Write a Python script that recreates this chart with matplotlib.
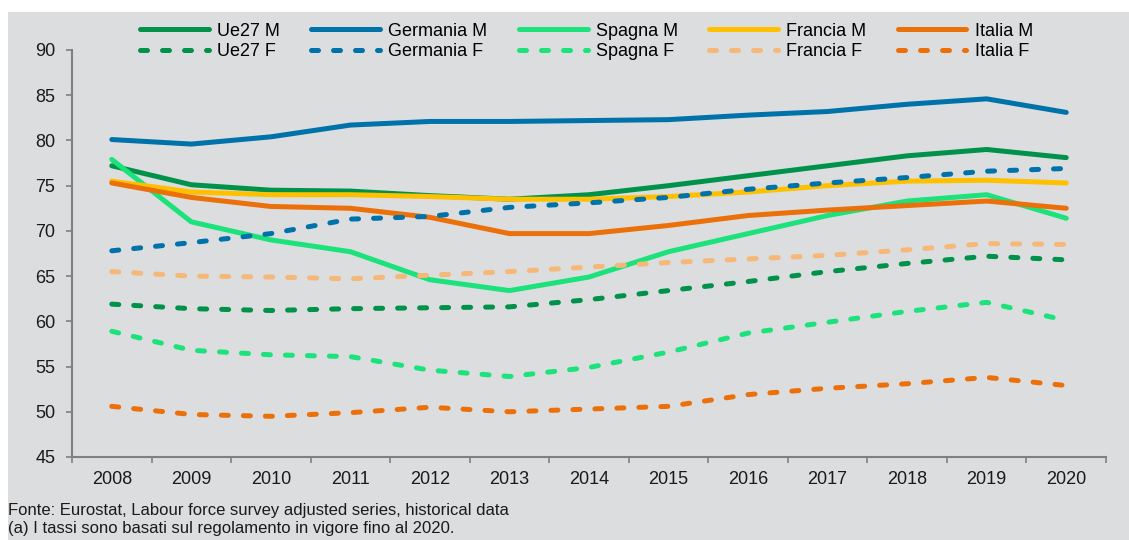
import numpy as np
import matplotlib
matplotlib.use("Agg")
import matplotlib.pyplot as plt
from matplotlib.patches import Rectangle

# ── data ──────────────────────────────────────────────────────────────────
years = list(range(2008, 2021))

ue27_m     = [77.2, 75.1, 74.5, 74.4, 73.9, 73.5, 74.0, 75.0, 76.1, 77.2, 78.3, 79.0, 78.1]
germania_m = [80.1, 79.6, 80.4, 81.7, 82.1, 82.1, 82.2, 82.3, 82.8, 83.2, 84.0, 84.6, 83.1]
spagna_m   = [77.9, 71.0, 69.0, 67.7, 64.6, 63.4, 64.9, 67.7, 69.7, 71.7, 73.3, 74.0, 71.4]
francia_m  = [75.5, 74.3, 74.0, 74.0, 73.8, 73.5, 73.5, 73.8, 74.3, 75.0, 75.5, 75.6, 75.3]
italia_m   = [75.3, 73.7, 72.7, 72.5, 71.5, 69.7, 69.7, 70.6, 71.7, 72.3, 72.8, 73.3, 72.5]

ue27_f     = [61.9, 61.4, 61.2, 61.4, 61.5, 61.6, 62.4, 63.4, 64.4, 65.5, 66.4, 67.2, 66.8]
germania_f = [67.8, 68.7, 69.7, 71.3, 71.6, 72.6, 73.1, 73.7, 74.6, 75.3, 75.9, 76.6, 76.9]
spagna_f   = [58.9, 56.8, 56.3, 56.1, 54.6, 53.9, 54.9, 56.6, 58.7, 59.9, 61.1, 62.1, 60.1]
francia_f  = [65.5, 65.0, 64.9, 64.7, 65.1, 65.5, 66.0, 66.5, 66.9, 67.3, 67.9, 68.6, 68.5]
italia_f   = [50.6, 49.7, 49.5, 49.9, 50.5, 50.0, 50.3, 50.6, 51.9, 52.6, 53.1, 53.8, 52.9]

labels_m = ["Ue27 M", "Germania M", "Spagna M", "Francia M", "Italia M"]
labels_f = ["Ue27 F", "Germania F", "Spagna F", "Francia F", "Italia F"]
colors_m = ["#00924a", "#0072aa", "#1be27a", "#ffc000", "#ec700a"]
colors_f = ["#00924a", "#0072aa", "#1be27a", "#f5b878", "#ec700a"]

series_m = [ue27_m, germania_m, spagna_m, francia_m, italia_m]
series_f = [ue27_f, germania_f, spagna_f, francia_f, italia_f]

BG = "#dcdddf"
plt.rcParams["font.family"] = ["Liberation Sans", "DejaVu Sans"]

fig = plt.figure(figsize=(11.29, 5.40), dpi=100)
fig.patches.append(Rectangle((8 / 1129, 0), 1, 1 - 12 / 540, transform=fig.transFigure,
                             facecolor=BG, edgecolor="none", zorder=-10))
ax = fig.add_axes([72 / 1129, 83 / 540, 1034 / 1129, 407 / 540])
ax.set_facecolor(BG)

lw = 3.6
handles_m, handles_f = [], []
for vals, c, lab in zip(series_m, colors_m, labels_m):
    h, = ax.plot(years, vals, color=c, lw=lw, solid_capstyle="round", label=lab)
    handles_m.append(h)
for vals, c, lab in zip(series_f, colors_f, labels_f):
    h, = ax.plot(years, vals, color=c, lw=lw, dashes=(1.4, 3.0),
                 dash_capstyle="round", label=lab)
    handles_f.append(h)

ax.set_xlim(2007.5, 2020.5)
ax.set_ylim(45, 90)
ax.set_yticks(range(45, 91, 5))
ax.set_xticks(years)
ax.set_xticks([y - 0.5 for y in years] + [2020.5], minor=True)
ax.tick_params(axis="x", which="major", length=0, pad=10, labelsize=13, labelcolor="#1a1a1a")
ax.tick_params(axis="x", which="minor", length=4, width=1.2, color="#808080", direction="out")
ax.tick_params(axis="y", length=4, width=1.2, color="#808080", pad=8,
               labelsize=13, labelcolor="#1a1a1a")
for s in ("top", "right"):
    ax.spines[s].set_visible(False)
for s in ("left", "bottom"):
    ax.spines[s].set_color("#808080")
    ax.spines[s].set_linewidth(1.5)

# legend: rows = M / F, columns = country
order = [h for pair in zip(handles_m, handles_f) for h in pair]
fig.legend(handles=order, labels=[h.get_label() for h in order], ncol=5,
           loc="center", bbox_to_anchor=(0.5195, 0.923), frameon=False,
           fontsize=13, handlelength=3.8, handletextpad=0.45, columnspacing=1.75,
           labelspacing=0.2, borderpad=0.2)

fig.text(8 / 1129, 1 - 511 / 540,
         "Fonte: Eurostat, Labour force survey adjusted series, historical data",
         fontsize=12, color="#1a1a1a", va="center", ha="left")
fig.text(8 / 1129, 1 - 528 / 540,
         "(a) I tassi sono basati sul regolamento in vigore fino al 2020.",
         fontsize=12, color="#1a1a1a", va="center", ha="left")

fig.savefig("out.png", dpi=100, facecolor="white")
